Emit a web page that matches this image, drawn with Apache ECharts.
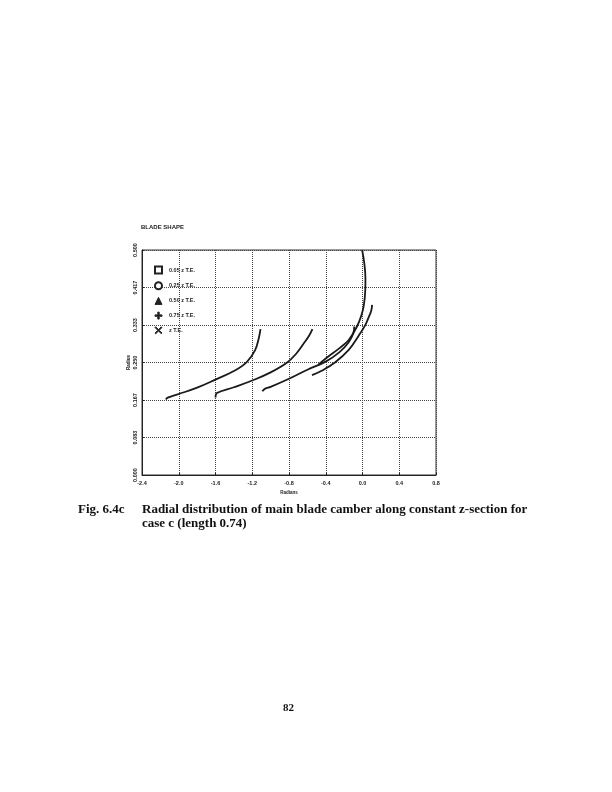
<!DOCTYPE html>
<html>
<head>
<meta charset="utf-8">
<script src="https://cdn.jsdelivr.net/npm/echarts@6/dist/echarts.min.js"></script>
<style>
html,body{margin:0;padding:0;background:#fff;}
#chart{width:612px;height:792px;}
</style>
</head>
<body>
<div id="chart"></div>
<script>
// ---- data ----
var seriesNames = ['0.05 z T.E.', '0.25 z T.E.', '0.50 z T.E.', '0.75 z T.E.', 'z T.E.'];
var xTicks = [-2.4, -2.0, -1.6, -1.2, -0.8, -0.4, 0.0, 0.4, 0.8];
var yTicks = ['0.000', '0.083', '0.167', '0.250', '0.333', '0.417', '0.500'];

var c005x = [-2.14, -2.12, -2.00, -1.80, -1.60, -1.40, -1.26, -1.17, -1.13, -1.11];
var c005y = [0.168, 0.172, 0.180, 0.194, 0.212, 0.231, 0.251, 0.277, 0.303, 0.324];

var c025x = [-1.60, -1.585, -1.40, -1.20, -1.00, -0.82, -0.72, -0.64, -0.58, -0.545];
var c025y = [0.172, 0.182, 0.195, 0.210, 0.228, 0.250, 0.270, 0.292, 0.310, 0.324];

var c050x = [-1.09, -1.06, -1.00, -0.80, -0.60, -0.40, -0.25, -0.15, -0.10, -0.09];
var c050y = [0.186, 0.192, 0.196, 0.214, 0.234, 0.252, 0.273, 0.295, 0.315, 0.330];

var c075x = [-0.55, -0.45, -0.30, -0.15, -0.04, 0.03, 0.07, 0.095, 0.105];
var c075y = [0.222, 0.231, 0.250, 0.278, 0.310, 0.333, 0.352, 0.365, 0.378];

var cTEx = [-0.48, -0.40, -0.25, -0.15, -0.06, -0.01, 0.015, 0.030, 0.032, 0.020, -0.004];
var cTEy = [0.245, 0.259, 0.282, 0.300, 0.330, 0.356, 0.378, 0.410, 0.437, 0.470, 0.500];

var curvesX = [c005x, c025x, c050x, c075x, cTEx];
var curvesY = [c005y, c025y, c050y, c075y, cTEy];
var legendIcons = [
  'emptyRect',
  'emptyCircle',
  'triangle',
  'path://M4,0 L6,0 L6,4 L10,4 L10,6 L6,6 L6,10 L4,10 L4,6 L0,6 L0,4 L4,4 Z',
  'path://M0,1 L1,0 L5,4 L9,0 L10,1 L6,5 L10,9 L9,10 L5,6 L1,10 L0,9 L4,5 Z'
];

function pairs(xs, ys) {
  var out = [];
  for (var i = 0; i < xs.length; i++) out.push([xs[i], ys[i]]);
  return out;
}

var series = seriesNames.map(function (n, i) {
  return {
    name: n,
    type: 'line',
    smooth: 0.4,
    showSymbol: false,
    data: pairs(curvesX[i], curvesY[i]),
    lineStyle: { color: '#1a1a1a', width: 1.8 },
    itemStyle: { color: '#1a1a1a' },
    z: 3
  };
});

var chart = echarts.init(document.getElementById('chart'), null, { renderer: 'canvas' });
var tickFont = { fontFamily: 'Liberation Sans', fontSize: 5.5, fontWeight: 'bold', color: '#222' };

chart.setOption({
  animation: false,
  backgroundColor: '#fff',
  title: {
    text: 'BLADE SHAPE',
    left: 141, top: 224, padding: 0,
    textStyle: { fontFamily: 'Liberation Sans', fontSize: 6, fontWeight: 'bold', color: '#222' }
  },
  legend: {
    orient: 'vertical',
    left: 154, top: 265.5, padding: 0,
    itemWidth: 7, itemHeight: 7, itemGap: 6.7,
    data: seriesNames.map(function (n, i) { return { name: n, icon: legendIcons[i] }; }),
    itemStyle: { color: '#222', borderColor: '#222', borderWidth: 1 },
    textStyle: { fontFamily: 'Liberation Sans', fontSize: 5.5, fontWeight: 'bold', color: '#222', padding: [0, 0, 0, 2] },
    selectedMode: false
  },
  grid: {
    left: 142, right: 176, top: 250, bottom: 317,
    show: true, borderColor: '#333', borderWidth: 1, backgroundColor: 'transparent'
  },
  xAxis: {
    type: 'value', min: -2.4, max: 0.8, interval: 0.4,
    name: 'Radians', nameLocation: 'middle', nameGap: 15,
    nameTextStyle: { fontFamily: 'Liberation Sans', fontSize: 4.5, fontWeight: 'bold', color: '#222' },
    axisLine: { show: true, onZero: false, lineStyle: { color: '#222', width: 1 } },
    axisTick: { show: true, inside: true, length: 2, lineStyle: { color: '#222' } },
    axisLabel: Object.assign({ margin: 5, formatter: function (v) { return v.toFixed(1); } }, tickFont),
    splitLine: { show: true, lineStyle: { type: 'dotted', color: '#444', width: 1 } }
  },
  yAxis: {
    type: 'value', min: 0, max: 0.5, interval: 0.5 / 6,
    name: 'Radius', nameLocation: 'middle', nameGap: 11,
    nameTextStyle: { fontFamily: 'Liberation Sans', fontSize: 4.5, fontWeight: 'bold', color: '#222' },
    axisLine: { show: true, onZero: false, lineStyle: { color: '#222', width: 1 } },
    axisTick: { show: true, inside: true, length: 2, lineStyle: { color: '#222' } },
    axisLabel: Object.assign({ margin: 4, rotate: 90,
      formatter: function (v) { return yTicks[Math.round(v * 12)]; } }, tickFont),
    splitLine: { show: true, lineStyle: { type: 'dotted', color: '#444', width: 1 } }
  },
  graphic: [
    { type: 'text', left: 78, top: 503,
      style: { text: 'Fig. 6.4c', font: 'bold 13px "Liberation Serif"', fill: '#111' } },
    { type: 'text', left: 142, top: 503,
      style: { text: 'Radial distribution of main blade camber along constant z-section for', font: 'bold 13px "Liberation Serif"', fill: '#111' } },
    { type: 'text', left: 142, top: 517,
      style: { text: 'case c (length 0.74)', font: 'bold 13px "Liberation Serif"', fill: '#111' } },
    { type: 'text', left: 283, top: 703,
      style: { text: '82', font: 'bold 11px "Liberation Serif"', fill: '#111' } }
  ],
  series: series
});
</script>
</body>
</html>
